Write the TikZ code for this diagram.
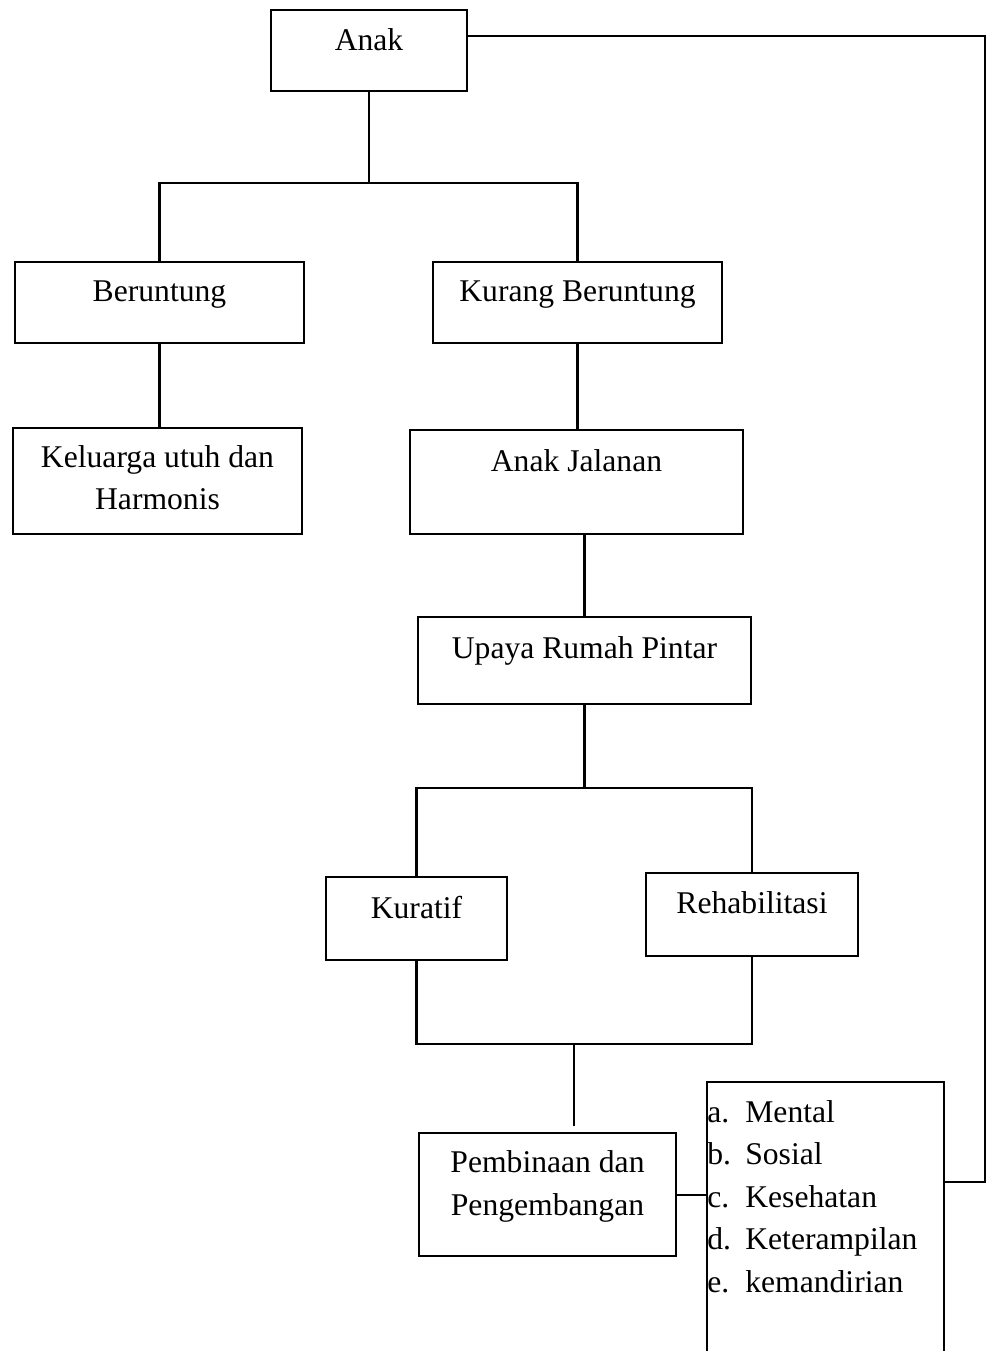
\documentclass[tikz,border=0pt]{standalone}
\usepackage{fontspec}
\setmainfont{Liberation Serif}
\usetikzlibrary{positioning}

\begin{document}
\begin{tikzpicture}[
  x=0.02cm, y=-0.02cm,
  kotak/.style={rectangle, draw=black, fill=white, line width=1.3pt, inner sep=0pt,
                font=\fontsize{18}{24}\selectfont, align=center},
  isi/.style n args={2}{text height=#1, text depth=#2},
  garis/.style={line width=1.15pt, color=black},
  butir/.style={font=\fontsize{18}{24.2}\selectfont, align=left, inner sep=0pt},
]
  \useasboundingbox (0,0) rectangle (987,1351);

  % Nodes
  \node[kotak, minimum width=3.92cm, isi={0.81cm}{0.81cm}] (anak) at (369,50.5) {Anak};
  \node[kotak, minimum width=5.78cm, isi={0.78cm}{0.84cm}] (beruntung) at (159.5,302.5) {Beruntung};
  \node[kotak, minimum width=5.78cm, isi={0.78cm}{0.84cm}] (kurang) at (577.5,302.5) {Kurang Beruntung};
  \node[kotak, minimum width=5.78cm, isi={1.64cm}{0.48cm}] (keluarga) at (157.5,481) {Keluarga utuh dan\\Harmonis};
  \node[kotak, minimum width=6.66cm, isi={0.82cm}{1.26cm}] (jalanan) at (576.5,482) {Anak Jalanan};
  \node[kotak, minimum width=6.66cm, isi={0.82cm}{0.92cm}] (upaya) at (584.5,660.5) {Upaya Rumah Pintar};
  \node[kotak, minimum width=3.62cm, isi={0.82cm}{0.84cm}] (kuratif) at (416.5,918.5) {Kuratif};
  \node[kotak, minimum width=4.24cm, isi={0.8cm}{0.86cm}] (rehab) at (752,914.5) {Rehabilitasi};
  \node[kotak, minimum width=5.14cm, isi={1.64cm}{0.82cm}] (pembinaan) at (547.5,1194.5) {Pembinaan dan\\Pengembangan};
  \node[butir, anchor=north west, text width=4.72cm, isi={0.8cm}{4.7cm}] (daftar) at (707,1082)
    {\makebox[0.76cm][l]{a.}Mental\\
     \makebox[0.76cm][l]{b.}Sosial\\
     \makebox[0.76cm][l]{c.}Kesehatan\\
     \makebox[0.76cm][l]{d.}Keterampilan\\
     \makebox[0.76cm][l]{e.}kemandirian};
  \draw[line width=1.3pt] (daftar.south west) -- (daftar.north west) -- (daftar.north east) -- (daftar.south east);

  \coordinate (cabang1) at (369,183);
  \coordinate (cabang2) at (584.5,788);
  \coordinate (cabang3) at (574,1044);
  \coordinate (sudut1) at (985,36);
  \coordinate (sudut2) at (985,1182);

  % Connectors
  \draw[garis] (anak.south) -- (cabang1);
  \draw[garis] (beruntung.north) -- (beruntung.north |- cabang1) -- (kurang.north |- cabang1) -- (kurang.north);
  \draw[garis] (beruntung.south) -- (beruntung.south |- keluarga.north);
  \draw[garis] (kurang.south) -- (kurang.south |- jalanan.north);
  \draw[garis] (upaya.north) -- (upaya.north |- jalanan.south);
  \draw[garis] (upaya.south) -- (cabang2);
  \draw[garis] (kuratif.north) -- (kuratif.north |- cabang2) -- (rehab.north |- cabang2) -- (rehab.north);
  \draw[garis] (kuratif.south) -- (kuratif.south |- cabang3) -- (rehab.south |- cabang3) -- (rehab.south);
  \draw[garis, shorten >=0.12cm] (cabang3) -- (cabang3 |- pembinaan.north);
  \draw[garis] (pembinaan.east) -- (pembinaan.east -| daftar.west);
  \draw[garis] (anak.east |- sudut1) -- (sudut1) -- (sudut2) -- (sudut2 -| daftar.east);
\end{tikzpicture}
\end{document}
